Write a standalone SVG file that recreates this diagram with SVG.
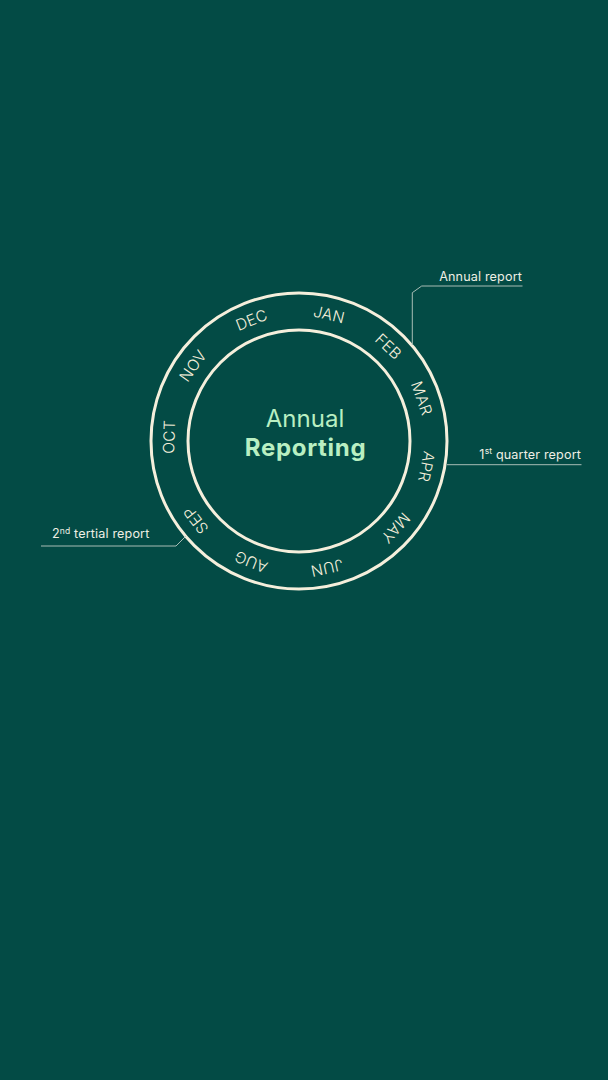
<svg xmlns="http://www.w3.org/2000/svg" width="608" height="1080" viewBox="0 0 608 1080">
  <style>
    .ring { fill: none; stroke: #F5EFDC; stroke-width: 3; }
    .month { font-family: Inter, "Noto Sans", "Liberation Sans", sans-serif; font-size: 15.5px; font-weight: 300; fill: #F5EFDC; text-anchor: middle; letter-spacing: 0.3px; }
    .title { font-family: Inter, "Noto Sans", "Liberation Sans", sans-serif; font-size: 24px; fill: #B9EFC2; text-anchor: middle; }
    .callout { font-family: Inter, "Noto Sans", "Liberation Sans", sans-serif; font-size: 12.6px; fill: #EEEFE4; letter-spacing: 0.15px; }
    .sup { font-size: 8.5px; }
    .leader { fill: none; stroke: #A8BDB5; stroke-width: 1; }
  </style>
  <rect width="608" height="1080" fill="#034B45"/>

  <g id="ring">
    <circle class="ring" cx="299" cy="441" r="148"/>
    <circle class="ring" cx="299" cy="441" r="111"/>
  </g>

  <g id="months">
    <text id="jan" class="month" x="299" y="316.5" transform="rotate(13.4 299 441)">JAN</text>
    <text id="feb" class="month" x="299" y="316.5" transform="rotate(43.4 299 441)">FEB</text>
    <text id="mar" class="month" x="299" y="316.5" transform="rotate(70.8 299 441)">MAR</text>
    <text id="apr" class="month" x="299" y="316.5" transform="rotate(101.4 299 441)">APR</text>
    <text id="may" class="month" x="299" y="316.5" transform="rotate(132 299 441)">MAY</text>
    <text id="jun" class="month" x="299" y="316.5" transform="rotate(167.6 299 441)">JUN</text>
    <text id="aug" class="month" x="299" y="316.5" transform="rotate(201.7 299 441)">AUG</text>
    <text id="sep" class="month" x="299" y="316.5" transform="rotate(232.5 299 441)">SEP</text>
    <text id="oct" class="month" x="299" y="316.5" transform="rotate(271.8 299 441)">OCT</text>
    <text id="nov" class="month" x="299" y="316.5" transform="rotate(305.4 299 441)">NOV</text>
    <text id="dec" class="month" x="299" y="316.5" transform="rotate(338.6 299 441)">DEC</text>
  </g>

  <g id="title">
    <text class="title" x="305" y="427">Annual</text>
    <text class="title" x="305.5" y="456" font-weight="700" letter-spacing="0.7">Reporting</text>
  </g>

  <g id="connectors">
    <polyline class="leader" points="522.5,286 421.7,286 412.3,292.7 412.3,345"/>
    <line class="leader" x1="447" y1="464.7" x2="581.5" y2="464.7"/>
    <polyline class="leader" points="41,546 176,546 185.7,536.3"/>
  </g>

  <g id="callout-annual">
    <text class="callout" x="522" y="280.5" text-anchor="end">Annual report</text>
  </g>
  <g id="callout-q1">
    <text class="callout" x="581" y="458.5" text-anchor="end">1<tspan class="sup" dy="-4.5">st</tspan><tspan dy="4.5"> quarter report</tspan></text>
  </g>
  <g id="callout-t2">
    <text class="callout" x="52" y="538">2<tspan class="sup" dy="-4.5">nd</tspan><tspan dy="4.5"> tertial report</tspan></text>
  </g>
</svg>
